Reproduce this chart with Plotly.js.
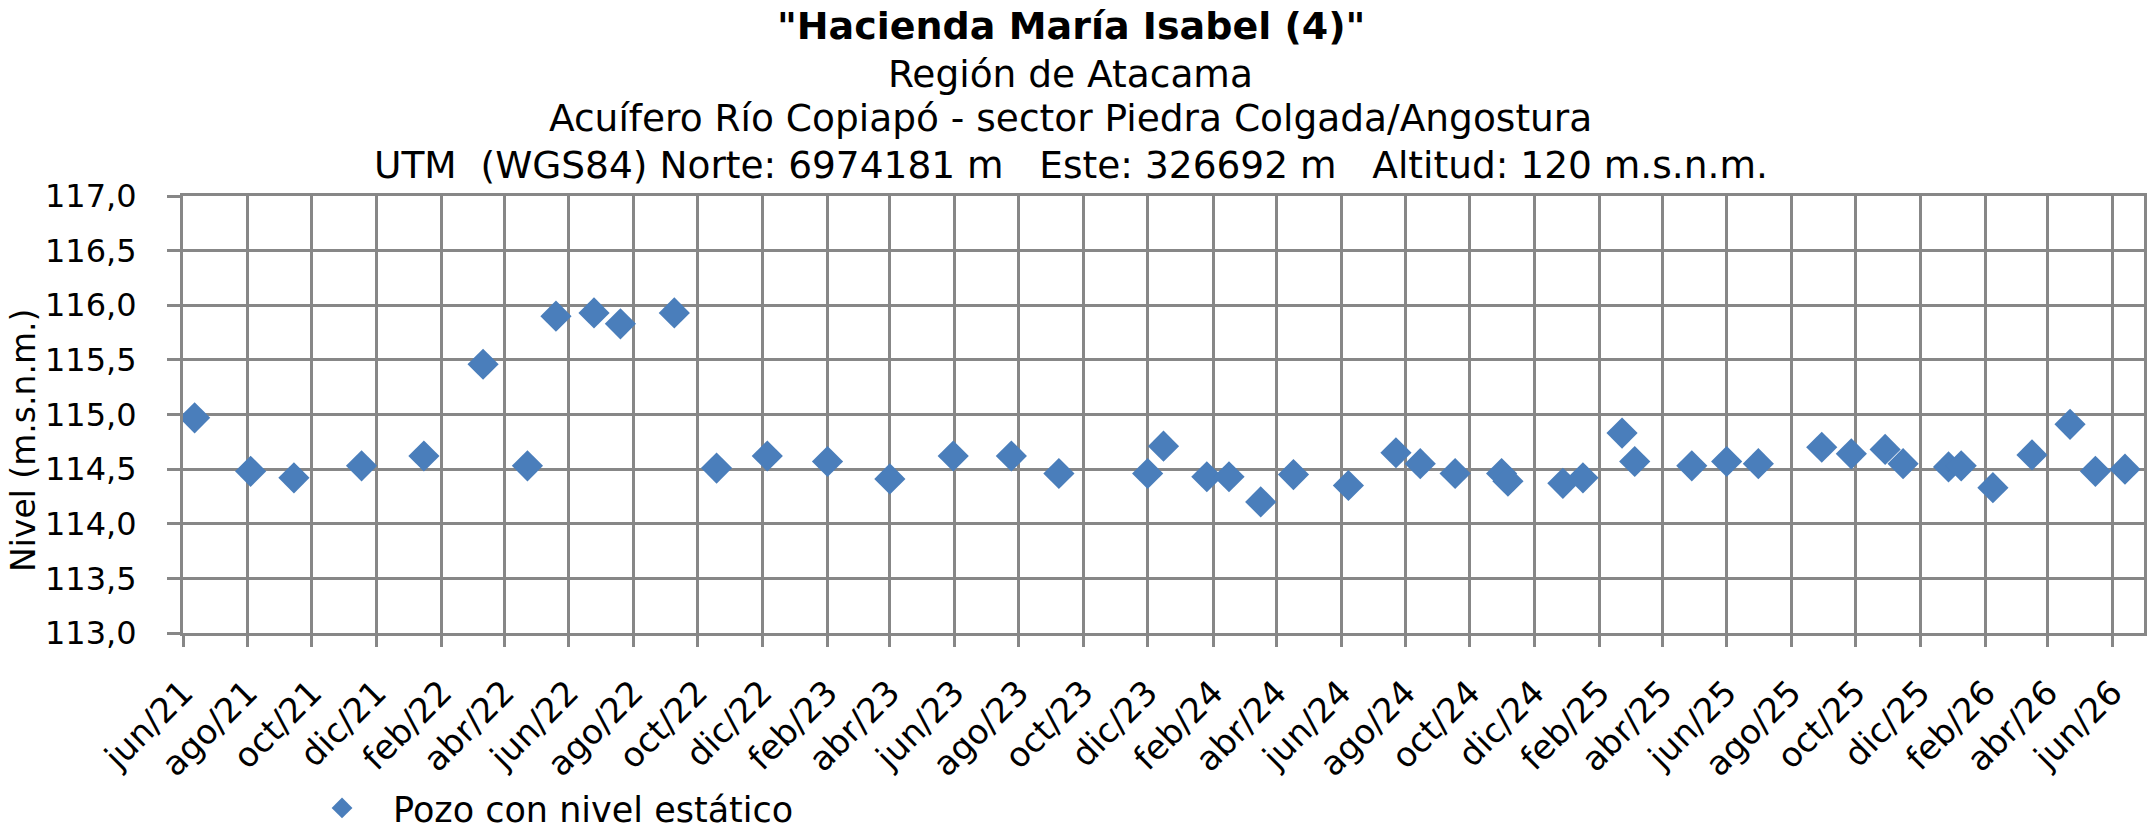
<!DOCTYPE html>
<html>
<head>
<meta charset="utf-8">
<script src="https://cdn.plot.ly/plotly-3.0.1.min.js"></script>
<style>html,body{margin:0;padding:0;background:#fff;}#chart{width:2151px;height:834px;}</style>
</head>
<body>
<div id="chart"></div>
<script>
// ---- data ----
const seriesName = "Pozo con nivel estático";
const fechas = ['2021-06-12','2021-08-04','2021-09-14','2021-11-17','2022-01-15','2022-03-12','2022-04-23','2022-05-20',
  '2022-06-25','2022-07-20','2022-09-09','2022-10-19','2022-12-06','2023-02-01','2023-04-01','2023-05-31',
  '2023-07-25','2023-09-08','2023-12-01','2023-12-16','2024-01-26','2024-02-16','2024-03-17','2024-04-17','2024-06-08',
  '2024-07-23','2024-08-15','2024-09-17','2024-10-31','2024-11-06','2024-12-28','2025-01-16','2025-02-22','2025-03-06','2025-04-29','2025-06-01','2025-07-01',
  '2025-08-30','2025-09-27','2025-10-29','2025-11-15','2025-12-28','2026-01-09','2026-02-08','2026-03-17','2026-04-22','2026-05-16','2026-06-13'];
const niveles = [114.97,114.48,114.42,114.53,114.62,115.46,114.53,115.90,
  115.93,115.83,115.93,114.51,114.62,114.57,114.41,114.62,
  114.62,114.46,114.46,114.71,114.43,114.43,114.20,114.45,114.35,
  114.65,114.55,114.46,114.46,114.39,114.37,114.42,114.83,114.57,114.53,114.57,114.55,
  114.70,114.64,114.68,114.55,114.52,114.53,114.33,114.63,114.91,114.48,114.50];
const tickFechas = ['2021-06-01','2021-08-01','2021-10-01','2021-12-01','2022-02-01','2022-04-01','2022-06-01','2022-08-01',
  '2022-10-01','2022-12-01','2023-02-01','2023-04-01','2023-06-01','2023-08-01','2023-10-01','2023-12-01',
  '2024-02-01','2024-04-01','2024-06-01','2024-08-01','2024-10-01','2024-12-01','2025-02-01','2025-04-01',
  '2025-06-01','2025-08-01','2025-10-01','2025-12-01','2026-02-01','2026-04-01','2026-06-01'];
const tickTextos = ['jun/21','ago/21','oct/21','dic/21','feb/22','abr/22','jun/22','ago/22',
  'oct/22','dic/22','feb/23','abr/23','jun/23','ago/23','oct/23','dic/23',
  'feb/24','abr/24','jun/24','ago/24','oct/24','dic/24','feb/25','abr/25',
  'jun/25','ago/25','oct/25','dic/25','feb/26','abr/26','jun/26'];
const tituloLineas = ['"Hacienda María Isabel (4)"','Región de Atacama',
  'Acuífero Río Copiapó - sector Piedra Colgada/Angostura',
  'UTM\u00a0\u00a0(WGS84) Norte: 6974181 m\u00a0\u00a0 Este: 326692 m\u00a0\u00a0 Altitud: 120 m.s.n.m.'];
const ejeY = 'Nivel (m.s.n.m.)';

const FONT = 'DejaVu Sans, Verdana, sans-serif';
const GRID = '#878787';

// title line vertical positions (paper coords above the plot) and sizes
const tituloY = [1.3899, 1.2800, 1.1794, 1.0718];
const tituloSize = [38, 37.5, 37.5, 37.5];

const trace = {
  type: 'scatter', mode: 'markers', name: seriesName,
  x: fechas, y: niveles,
  marker: {symbol: 'diamond', size: 24, color: '#4A7EBB', line: {width: 0}},
  showlegend: true
};

const annotations = tituloLineas.map((t, i) => ({
  text: i === 0 ? '<b>' + t + '</b>' : t,
  xref: 'paper', yref: 'paper', x: 0.4528, y: tituloY[i],
  xanchor: 'center', yanchor: 'middle', showarrow: false,
  font: {family: FONT, size: tituloSize[i], color: '#000'}
}));
// y-axis title
annotations.push({
  text: ejeY, textangle: -90,
  xref: 'paper', yref: 'paper', x: -0.0816, y: 0.4416,
  xanchor: 'center', yanchor: 'middle', showarrow: false,
  font: {family: FONT, size: 33, color: '#000'}
});

const layout = {
  width: 2151, height: 834,
  paper_bgcolor: '#ffffff', plot_bgcolor: '#ffffff',
  separators: ',.',
  font: {family: FONT, size: 32, color: '#000'},
  margin: {l: 183, r: 7, t: 196, b: 201, pad: 0},
  annotations: annotations,
  xaxis: {
    type: 'date', range: ['2021-06-01', '2026-07-01'],
    tickmode: 'array', tickvals: tickFechas, ticktext: tickTextos,
    tickangle: -45, tickfont: {family: FONT, size: 34, color: '#000'},
    ticklabelstandoff: 12,
    ticks: 'outside', ticklen: 11, tickwidth: 3, tickcolor: GRID,
    showgrid: true, gridcolor: GRID, gridwidth: 3,
    showline: true, linecolor: GRID, linewidth: 3, mirror: true,
    zeroline: false, fixedrange: true
  },
  yaxis: {
    range: [113, 117], dtick: 0.5, tick0: 113, tickformat: '.1f',
    tickfont: {family: FONT, size: 32, color: '#000'},
    ticks: 'outside', ticklen: 13, tickwidth: 3, tickcolor: GRID,
    ticklabelstandoff: 24,
    showgrid: true, gridcolor: GRID, gridwidth: 3,
    showline: true, linecolor: GRID, linewidth: 3, mirror: true,
    zeroline: false, fixedrange: true
  },
  legend: {
    orientation: 'h', xref: 'container', yref: 'container',
    x: 0.1353, xanchor: 'left', y: 0.031, yanchor: 'middle',
    font: {family: FONT, size: 35, color: '#000'},
    itemwidth: 92, bgcolor: 'rgba(0,0,0,0)'
  }
};

Plotly.newPlot('chart', [trace], layout, {staticPlot: true, displayModeBar: false});
</script>
</body>
</html>
